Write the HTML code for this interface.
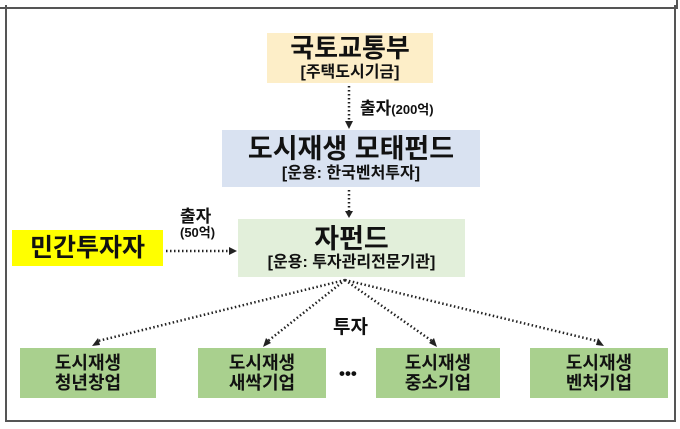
<!DOCTYPE html>
<html><head><meta charset="utf-8"><style>
body{margin:0;width:680px;height:429px;background:#fff;overflow:hidden;font-family:"Liberation Sans","Noto Sans CJK KR","NanumGothic",sans-serif;}
.b{position:absolute;display:flex;flex-direction:column;align-items:center;justify-content:center;font-weight:bold;color:#111;line-height:1.12;}
.t{position:absolute;font-weight:bold;color:#111;white-space:nowrap;}
</style></head><body>
<div style="position:absolute;left:-2px;top:-10px;width:676px;height:15px;border:2px solid #555;"></div>
<div style="position:absolute;left:5px;top:5px;width:667px;height:415px;border:2px solid #555;border-top:none;"></div>
<div class="b" style="left:267px;top:33px;width:166px;height:50px;background:#fdeec8;"><span style="font-size:26px">국토교통부</span><span style="font-size:16px">[주택도시기금]</span></div>
<div class="b" style="left:222px;top:130px;width:258px;height:57px;background:#d9e2f1;"><span style="font-size:27px">도시재생 모태펀드</span><span style="font-size:16px">[운용: 한국벤처투자]</span></div>
<div class="b" style="left:238px;top:219px;width:227px;height:58px;background:#e2efda;"><span style="font-size:27px">자펀드</span><span style="font-size:16px">[운용: 투자관리전문기관]</span></div>
<div class="b" style="left:12px;top:230px;width:151px;height:36px;background:#ffff00;font-size:25px;">민간투자자</div>
<div class="b" style="left:20px;top:348px;width:136px;height:50px;background:#a9d08e;font-size:18px;">도시재생<br>청년창업</div>
<div class="b" style="left:198px;top:348px;width:128px;height:50px;background:#a9d08e;font-size:18px;">도시재생<br>새싹기업</div>
<div class="b" style="left:376px;top:348px;width:124px;height:50px;background:#a9d08e;font-size:18px;">도시재생<br>중소기업</div>
<div class="b" style="left:530px;top:348px;width:138px;height:50px;background:#a9d08e;font-size:18px;">도시재생<br>벤처기업</div>
<div class="t" style="left:360px;top:94px;font-size:17px">출자<span style="font-size:13px">(200억)</span></div>
<div class="t" style="left:180px;top:202px;font-size:17px">출자</div>
<div class="t" style="left:180px;top:222px;font-size:13px">(50억)</div>
<div class="t" style="left:333px;top:312px;font-size:19px">투자</div>
<div class="t" style="left:339px;top:364px;font-size:17px">•••</div>
<svg width="680" height="429" style="position:absolute;left:0;top:0">
<g stroke="#222" stroke-width="2.5" stroke-dasharray="1.5 2.5" fill="none">
<line x1="349" y1="86" x2="349" y2="121"/>
<line x1="349" y1="190" x2="349" y2="212"/>
<line x1="166" y1="251" x2="230" y2="251"/>
<line x1="345" y1="280" x2="98" y2="341"/>
<line x1="345" y1="280" x2="268" y2="341"/>
<line x1="345" y1="280" x2="432" y2="341"/>
<line x1="345" y1="280" x2="597" y2="341"/>
</g>
<g fill="#222">
<polygon points="345,121 353,121 349,129"/>
<polygon points="345,211 353,211 349,218"/>
<polygon points="229,247 229,255 237,251"/>
<polygon points="92,346 98,338 100,345"/>
<polygon points="263,347 266,338 271,343"/>
<polygon points="437,347 429,343 434,338"/>
<polygon points="604,346 596,345 598,338"/>
</g>
</svg>
</body></html>
